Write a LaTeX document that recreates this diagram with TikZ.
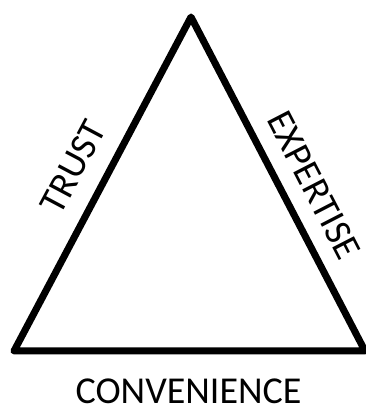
\documentclass[tikz,border=0pt]{standalone}
\usepackage{fontspec}
\setmainfont{Carlito}
\begin{document}
\begin{tikzpicture}[x=1pt,y=1pt,
  tri/.style={line width=7pt,line join=round,line cap=round},
  lbl/.style={inner sep=0pt,font=\fontsize{38}{42}\selectfont}]
\useasboundingbox (0,0) rectangle (365,409);
\coordinate (A) at (191,392);
\coordinate (B) at (14,58);
\coordinate (C) at (365,58);
\draw[tri] (A) -- (B) -- (C) -- cycle;
\node[lbl] (conv) at (188.5,18) {CONVENIENCE};
\node[lbl,rotate=62] (trust) at (73,242) {TRUST};
\node[lbl,rotate=-62.7] (exp) at (314,224) {EXPERTISE};
\end{tikzpicture}
\end{document}
